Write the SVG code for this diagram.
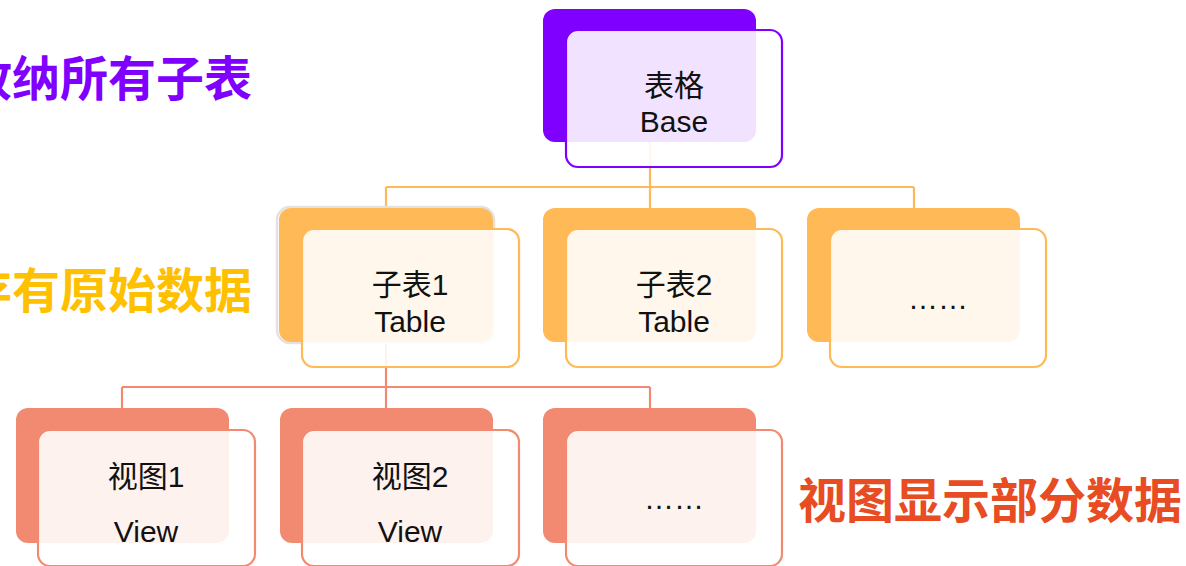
<svg xmlns="http://www.w3.org/2000/svg" width="1186" height="566" viewBox="0 0 1186 566">
<style>
.t{font-family:"Liberation Sans","Noto Sans CJK SC",sans-serif;font-size:30px;fill:#111;text-anchor:middle}
.h{font-family:"Noto Sans CJK SC",sans-serif;font-size:48px;font-weight:bold}
.front{fill:#fff;fill-opacity:0.89;stroke-width:2.2}
.p .back{fill:#8000FF}.p .front{stroke:#8000FF}
.o .back{fill:#FFB957}.o .front{stroke:#FFB957}
.s .back{fill:#F28A72}.s .front{stroke:#F28A72}
.lo{stroke:#FFB957;stroke-width:2.2;fill:none}
.ls{stroke:#F28A72;stroke-width:2.2;fill:none}
</style>
<rect width="1186" height="566" fill="#fff"/>
<g id="connectors">
<path class="lo" d="M650 142V208M386 187H914M386 187V208M914 187V208"/>
<path class="ls" d="M386 342V408M122 387H650M122 387V408M650 387V408"/>
</g>
<g id="labels">
<text class="h" x="252" y="96" text-anchor="end" fill="#8000FF">收纳所有子表</text>
<text class="h" x="252" y="308" text-anchor="end" fill="#FFC000">存有原始数据</text>
<text class="h" x="798" y="518" fill="#E84C22">视图显示部分数据</text>
</g>
<g id="base" class="p">
<rect class="back" x="543" y="9" width="213" height="133" rx="12"/>
<rect class="front" x="566" y="30" width="216" height="137" rx="12"/>
<text class="t" x="674" y="96">表格</text>
<text class="t" x="674" y="132">Base</text>
</g>
<g id="table1" class="o">
<rect x="277" y="207" width="217" height="136" rx="13" fill="none" stroke="#E2E2E2" stroke-width="2.5"/>
<rect class="back" x="279" y="208" width="214" height="134" rx="12"/>
<rect class="front" x="302" y="229" width="217" height="138" rx="12"/>
<text class="t" x="410" y="295">子表1</text>
<text class="t" x="410" y="332">Table</text>
</g>
<g id="table2" class="o">
<rect class="back" x="543" y="208" width="213" height="134" rx="12"/>
<rect class="front" x="566" y="229" width="216" height="138" rx="12"/>
<text class="t" x="674" y="295">子表2</text>
<text class="t" x="674" y="332">Table</text>
</g>
<g id="table3" class="o">
<rect class="back" x="807" y="208" width="213" height="134" rx="12"/>
<rect class="front" x="830" y="229" width="216" height="138" rx="12"/>
<text class="t" x="938" y="309">……</text>
</g>
<g id="view1" class="s">
<rect class="back" x="16" y="408" width="213" height="135" rx="12"/>
<rect class="front" x="38" y="430" width="217" height="136" rx="12"/>
<text class="t" x="146" y="487">视图1</text>
<text class="t" x="146" y="542">View</text>
</g>
<g id="view2" class="s">
<rect class="back" x="280" y="408" width="213" height="135" rx="12"/>
<rect class="front" x="302" y="430" width="217" height="136" rx="12"/>
<text class="t" x="410" y="487">视图2</text>
<text class="t" x="410" y="542">View</text>
</g>
<g id="view3" class="s">
<rect class="back" x="543" y="408" width="213" height="135" rx="12"/>
<rect class="front" x="566" y="430" width="216" height="136" rx="12"/>
<text class="t" x="674" y="509">……</text>
</g>
</svg>
